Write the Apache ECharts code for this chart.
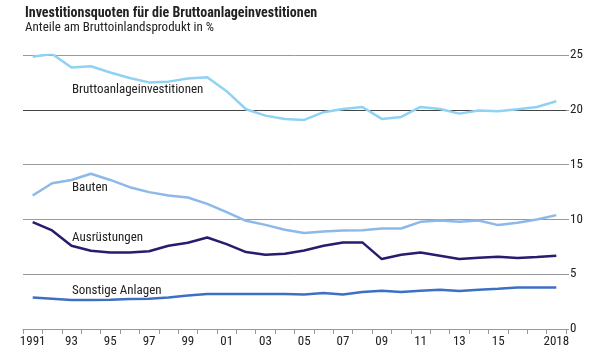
<!DOCTYPE html>
<html><head><meta charset="utf-8">
<script src="https://cdn.jsdelivr.net/npm/echarts@6/dist/echarts.min.js"></script>
<style>html,body{margin:0;padding:0;background:#fff}#c{width:600px;height:356px}</style>
</head><body><div id="c"></div>
<script>
const years = ["1991","1992","1993","1994","1995","1996","1997","1998","1999","2000","2001","2002","2003","2004","2005","2006","2007","2008","2009","2010","2011","2012","2013","2014","2015","2016","2017","2018"];
const tickLabels = ["1991","","93","","95","","97","","99","","01","","03","","05","","07","","09","","11","","13","","15","","","2018"];
const brutto = [24.85,25.1,23.85,23.97,23.4,22.9,22.5,22.57,22.85,22.97,21.7,20.05,19.47,19.17,19.08,19.78,20.08,20.26,19.17,19.35,20.26,20.08,19.65,19.93,19.87,20.05,20.26,20.78];
const bauten = [12.18,13.3,13.6,14.16,13.6,12.94,12.49,12.18,12.0,11.42,10.67,9.87,9.5,9.05,8.75,8.9,8.99,9.0,9.17,9.17,9.78,9.9,9.78,9.9,9.48,9.69,9.99,10.39];
const ausruest = [9.75,8.99,7.6,7.14,6.98,6.98,7.1,7.6,7.87,8.35,7.75,7.02,6.77,6.86,7.17,7.6,7.9,7.9,6.38,6.77,6.98,6.68,6.38,6.5,6.59,6.47,6.56,6.68];
const sonstige = [2.88,2.76,2.64,2.64,2.67,2.73,2.76,2.88,3.06,3.19,3.19,3.19,3.19,3.19,3.15,3.28,3.15,3.37,3.49,3.37,3.49,3.58,3.46,3.58,3.67,3.79,3.79,3.79];
const seriesNames = ["Bruttoanlageinvestitionen","Bauten","Ausrüstungen","Sonstige Anlagen"];
const yTicks = [0,5,10,15,20,25];

const FONT = '"Liberation Sans Narrow", "Roboto Condensed", "DejaVu Sans Condensed", sans-serif';
const chart = echarts.init(document.getElementById('c'), null, {renderer:'canvas'});
function mk(name, data, color){
  return {name, type:'line', data, symbol:'none', smooth:false,
    lineStyle:{color, width:2.5}, itemStyle:{color}, z:3, animation:false};
}
const s0 = mk(seriesNames[0], brutto, '#8fd2f4');
s0.markLine = {silent:true, symbol:'none', label:{show:false}, lineStyle:{color:'#444', width:1.2, type:'solid'}, data:[{yAxis:20}], z:1};
const opt = {
  animation:false,
  textStyle:{fontFamily:FONT},
  title:[{text:'Investitionsquoten für die Bruttoanlageinvestitionen', left:20, top:1,
    textStyle:{fontFamily:FONT, fontWeight:'bold', fontSize:14, color:'#222'}},
    {text:'Anteile am Bruttoinlandsprodukt in %', left:20, top:16,
    textStyle:{fontFamily:FONT, fontWeight:'normal', fontSize:13, color:'#222'}}],
  grid:{left:23, right:34, top:55, bottom:27},
  xAxis:{type:'category', data:years, boundaryGap:true,
    axisLine:{lineStyle:{color:'#999', width:1}},
    axisTick:{show:true, interval:0, length:5, lineStyle:{color:'#999'}},
    axisLabel:{interval:0, color:'#222', fontSize:13, fontFamily:FONT, margin:6,
      formatter:(v,i)=>tickLabels[i]}},
  yAxis:{type:'value', position:'right', min:0, max:25, interval:5,
    axisLine:{show:false},
    axisTick:{show:true, length:3, lineStyle:{color:'#999'}},
    splitLine:{lineStyle:{color:'#999', width:1}},
    axisLabel:{color:'#222', fontSize:13, fontFamily:FONT, margin:4}},
  series:[s0, mk(seriesNames[1], bauten, '#8cb9ea'), mk(seriesNames[2], ausruest, '#2b1a6e'), mk(seriesNames[3], sonstige, '#3d70c4')],
  graphic:[
    {type:'text', left:72, top:83, style:{text:seriesNames[0], font:'13px '+FONT, fill:'#222'}},
    {type:'text', left:72, top:181, style:{text:seriesNames[1], font:'13px '+FONT, fill:'#222'}},
    {type:'text', left:72, top:231, style:{text:seriesNames[2], font:'13px '+FONT, fill:'#222'}},
    {type:'text', left:72, top:284, style:{text:seriesNames[3], font:'13px '+FONT, fill:'#222'}}
  ]
};
chart.setOption(opt);
</script></body></html>
